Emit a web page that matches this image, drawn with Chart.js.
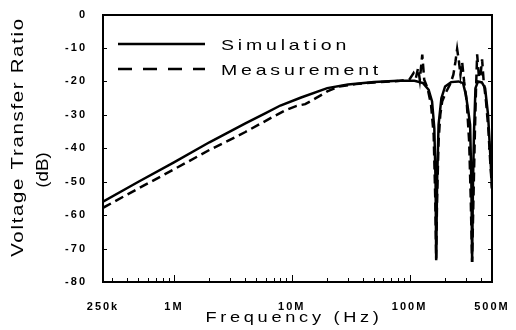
<!DOCTYPE html>
<html>
<head>
<meta charset="utf-8">
<script src="https://cdn.jsdelivr.net/npm/chart.js@4.4.0/dist/chart.umd.min.js"></script>
<style>
  html, body { margin: 0; padding: 0; background: #fff; }
  canvas { display: block; }
</style>
</head>
<body>
<canvas id="chart" width="516" height="330"></canvas>
<script>
// values (frequency in Hz, ratio in dB)
const simFreq = [250e3, 500e3, 1e6, 2e6, 4e6, 6e6, 8e6, 12e6, 20e6, 30e6, 50e6, 80e6, 110e6,
  130e6, 145e6, 155e6, 162e6, 166e6, 168e6, 171e6, 176e6, 186e6, 200e6, 225e6, 260e6, 284e6,
  300e6, 315e6, 326e6, 334e6, 339e6, 345e6, 352e6, 362e6, 380e6, 410e6, 437e6, 463e6, 480e6, 500e6];
const simDb = [-56, -50, -44.2, -38.2, -32.6, -29.5, -27.2, -24.8, -22, -20.9, -20.2, -19.8, -19.8,
  -20.5, -22.5, -26, -34, -50, -73.5, -50, -33, -25, -21.5, -20.2, -20, -20.5,
  -24, -29, -33, -50, -74, -50, -35, -22, -20, -20.3, -22, -30, -40, -52];

const measFreq = [250e3, 500e3, 1e6, 2e6, 4e6, 7e6, 9e6, 11e6, 13e6, 16e6, 20e6, 25e6, 35e6, 50e6,
  80e6, 100e6, 108e6, 113e6, 118e6, 122e6, 128e6, 133e6, 142e6, 152e6, 160e6, 165e6, 168e6, 171e6,
  176e6, 182e6, 189e6, 205e6, 221e6, 235e6, 245e6, 253e6, 262e6, 270e6, 279e6, 290e6, 305e6, 320e6,
  330e6, 339e6, 348e6, 358e6, 366e6, 374e6, 388e6, 400e6, 412e6, 425e6, 445e6, 465e6, 485e6, 500e6];
const measDb = [-57.8, -52, -46.3, -40.5, -35.2, -30.5, -28.5, -27.3, -26.8, -25, -23, -21.5, -20.8, -20.3,
  -19.9, -19.3, -17.5, -19, -16, -19.5, -12, -19.5, -22, -27, -36, -55, -73, -55,
  -38, -30, -25.9, -23, -20.8, -18, -14, -10.3, -14, -18, -14.2, -20, -26, -38,
  -55, -74, -55, -35, -22, -11.9, -19, -18, -13.4, -20, -26, -34, -45, -52];

const xTickValues = [250e3, 1e6, 1e7, 1e8, 5e8];
const xTickLabels = ['250k', '1M', '10M', '100M', '500M'];
const yTickValues = [0, -10, -20, -30, -40, -50, -60, -70, -80];

const FONT = '"Liberation Sans", Arial, Helvetica, sans-serif';

function wideText(ctx, text, x, y, size, stretch, spacing, align, rotate) {
  ctx.save();
  ctx.translate(x, y);
  if (rotate) ctx.rotate(rotate);
  ctx.scale(stretch, 1);
  ctx.font = size + 'px ' + FONT;
  ctx.letterSpacing = (spacing / stretch) + 'px';
  ctx.textAlign = align;
  ctx.textBaseline = 'alphabetic';
  ctx.fillStyle = '#000';
  ctx.fillText(text, 0, 0);
  ctx.restore();
}

const framePlugin = {
  id: 'frame',
  beforeDraw(chart) {
    chart.ctx.letterSpacing = '2px';
  },
  afterDraw(chart) {
    const ctx = chart.ctx;
    const a = chart.chartArea;
    const x = chart.scales.x;
    const y = chart.scales.y;
    const L = Math.round(a.left), R = Math.round(a.right);
    const T = Math.round(a.top), B = Math.round(a.bottom);
    ctx.save();
    ctx.setTransform(1, 0, 0, 1, 0, 0);
    ctx.globalAlpha = 1;
    ctx.letterSpacing = '0px';
    ctx.fillStyle = '#000';
    // box round the plot
    ctx.fillRect(L - 1, T - 1, R - L + 2, 2);
    ctx.fillRect(L - 1, B - 1, R - L + 2, 2);
    ctx.fillRect(L - 1, T - 1, 2, B - T + 2);
    ctx.fillRect(R - 1, T - 1, 2, B - T + 2);

    // inward tick marks
    for (let d = 5; d <= 8; d++) {
      for (let k = 1; k <= 9; k++) {
        const v = k * Math.pow(10, d);
        if (v <= xTickValues[0] || v >= xTickValues[xTickValues.length - 1]) continue;
        const px = Math.round(x.getPixelForValue(v));
        const len = k === 1 ? 7 : 4;
        ctx.fillRect(px, B - len, 1, len);
      }
    }
    yTickValues.forEach(v => {
      const py = Math.round(y.getPixelForValue(v));
      ctx.fillRect(L, py, 4, 1);
      ctx.fillRect(R - 4, py, 4, 1);
    });

    // legend inside the plot
    chart.data.datasets.forEach((ds, i) => {
      const ly = T + 29 + i * 25;
      ctx.save();
      ctx.strokeStyle = '#000';
      ctx.lineWidth = 2.5;
      ctx.setLineDash(ds.borderDash.length ? [14, 11] : []);
      ctx.beginPath();
      ctx.moveTo(L + 15, ly);
      ctx.lineTo(L + 102, ly);
      ctx.stroke();
      ctx.restore();
      wideText(ctx, ds.label, L + 118, ly + 6, 15, 1.3, 3.8, 'left', 0);
    });

    // axis titles
    wideText(ctx, 'Voltage Transfer Ratio', 23, 137, 17, 1.2, 1.7, 'center', -Math.PI / 2);
    wideText(ctx, '(dB)', 48, 170, 17, 1.1, 0, 'center', -Math.PI / 2);
    wideText(ctx, 'Frequency (Hz)', 294, 322, 14, 1.3, 3.7, 'center', 0);
    ctx.restore();
  }
};

const tickFont = { family: FONT, size: 11, weight: 'bold' };

new Chart(document.getElementById('chart'), {
  type: 'line',
  data: {
    datasets: [{
      label: 'Simulation',
      data: simFreq.map((f, i) => ({ x: f, y: simDb[i] })),
      borderColor: '#000',
      borderWidth: 2.5,
      borderDash: [],
      pointRadius: 0,
      tension: 0
    }, {
      label: 'Measurement',
      data: measFreq.map((f, i) => ({ x: f, y: measDb[i] })),
      borderColor: '#000',
      borderWidth: 2.5,
      borderDash: [9, 5],
      pointRadius: 0,
      tension: 0
    }]
  },
  options: {
    responsive: false,
    animation: false,
    layout: { padding: { top: 13, right: 24, bottom: 0, left: 0 } },
    plugins: {
      legend: { display: false },
      tooltip: { enabled: false }
    },
    scales: {
      x: {
        type: 'logarithmic',
        min: 250e3,
        max: 500e6,
        grid: { display: false },
        border: { display: false },
        afterBuildTicks(scale) {
          scale.ticks = xTickValues.map(v => ({ value: v }));
        },
        afterFit(scale) { scale.height = 48; },
        ticks: {
          autoSkip: false,
          maxRotation: 0,
          padding: 10,
          color: '#000',
          font: tickFont,
          callback: (v, i) => xTickLabels[i]
        }
      },
      y: {
        min: -80,
        max: 0,
        grid: { display: false },
        border: { display: false },
        afterFit(scale) { scale.width = 103; },
        ticks: {
          stepSize: 10,
          padding: 8,
          color: '#000',
          font: tickFont
        }
      }
    }
  },
  plugins: [framePlugin]
});
</script>
</body>
</html>
